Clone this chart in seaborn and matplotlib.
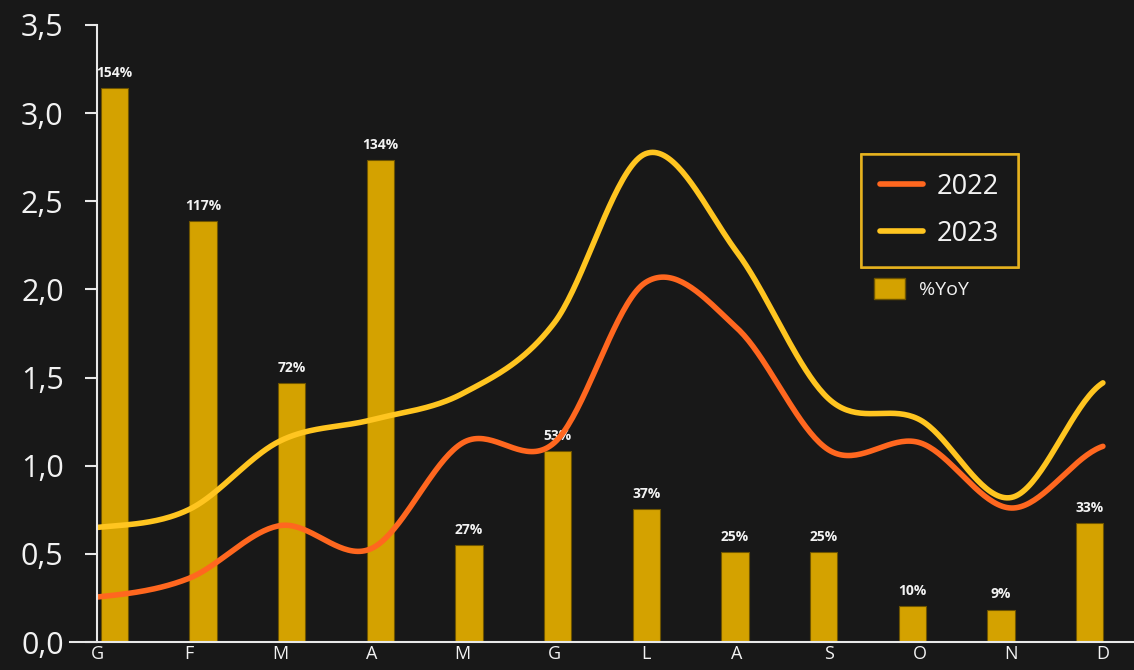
import numpy as np
import pandas as pd
import matplotlib
matplotlib.use("Agg")
import matplotlib.pyplot as plt
import seaborn as sns
from matplotlib.lines import Line2D
from matplotlib.patches import Patch

months = ["G", "F", "M", "A", "M", "G", "L", "A", "S", "O", "N", "D"]
v2022 = [0.255, 0.36, 0.66, 0.53, 1.13, 1.13, 2.04, 1.78, 1.09, 1.13, 0.76, 1.11]
v2023 = [0.65, 0.75, 1.14, 1.26, 1.41, 1.81, 2.77, 2.21, 1.38, 1.26, 0.82, 1.47]
yoy = [154, 117, 72, 134, 27, 53, 37, 25, 25, 10, 9, 33]
yoy_labels = ["154%", "117%", "72%", "134%", "27%", "53%", "37%", "25%", "25%", "10%", "9%", "33%"]

BG = "#181818"
C22 = "#ff671f"
C23 = "#ffc520"
CBAR = "#d4a200"
TXT = "#f2f2f2"

sns.set_theme(style="dark")
plt.rcParams["font.family"] = ["Open Sans", "DejaVu Sans"]


def catmull_rom(y, n=40):
    y = np.asarray(y, float)
    x = np.arange(len(y), dtype=float)
    P = np.concatenate([[y[0]], y, [y[-1]]])
    xs, ys = [], []
    for i in range(len(y) - 1):
        p0, p1, p2, p3 = P[i], P[i + 1], P[i + 2], P[i + 3]
        t = np.linspace(0, 1, n, endpoint=False)
        yy = 0.5 * ((2 * p1) + (-p0 + p2) * t + (2 * p0 - 5 * p1 + 4 * p2 - p3) * t ** 2
                    + (-p0 + 3 * p1 - 3 * p2 + p3) * t ** 3)
        xs.append(x[i] + t)
        ys.append(yy)
    xs.append([x[-1]])
    ys.append([y[-1]])
    return np.concatenate(xs), np.concatenate(ys)


W, H = 1134, 670
fig = plt.figure(figsize=(W / 100, H / 100), dpi=100, facecolor=BG)

# bar axes (secondary scale)
axb = fig.add_axes([70 / W, (H - 642) / H, (W - 70) / W, (642 - 25) / H])
axb.set_facecolor(BG)
dfb = pd.DataFrame({"pos": np.arange(len(months)), "yoy": np.array(yoy) / 100})
sns.barplot(data=dfb, x="pos", y="yoy", ax=axb, color=CBAR, width=0.31,
            saturation=1, edgecolor="#6e5400", linewidth=0.8)
axb.set_xlim(-0.5, 11.5)
axb.set_ylim(0, 1.715)
axb.bar_label(axb.containers[0], labels=yoy_labels, padding=6, color=TXT,
              fontsize=10, fontweight="bold")
axb.set_xticks([])
axb.set_yticks([])
axb.set_xlabel("")
axb.set_ylabel("")
for s in ["top", "right", "left"]:
    axb.spines[s].set_visible(False)
axb.spines["bottom"].set_color("#e8e8e8")
axb.spines["bottom"].set_linewidth(1.5)
axb.grid(False)

# line axes (primary scale)
ax = fig.add_axes([97 / W, (H - 642) / H, (W - 97) / W, (642 - 25) / H])
ax.patch.set_alpha(0)
for vals, col, lab in [(v2022, C22, "2022"), (v2023, C23, "2023")]:
    xs, ys = catmull_rom(vals)
    sns.lineplot(x=xs, y=ys, ax=ax, color=col, linewidth=4, label=lab,
                 solid_capstyle="round", sort=False)
ax.set_xlim(0, 11.34)
ax.set_ylim(0, 3.5)
ax.set_yticks(np.arange(0, 3.51, 0.5))
ax.set_yticklabels([f"{v:.1f}".replace(".", ",") for v in np.arange(0, 3.51, 0.5)])
ax.set_xticks(range(len(months)))
ax.set_xticklabels(months)
ax.tick_params(axis="y", colors="#e8e8e8", labelcolor=TXT, labelsize=22,
               length=9, width=1.5, direction="out", left=True, pad=15)
ax.tick_params(axis="x", colors=TXT, labelsize=13, length=0, pad=2)
for s in ["top", "right", "bottom"]:
    ax.spines[s].set_visible(False)
ax.spines["left"].set_color("#e8e8e8")
ax.spines["left"].set_linewidth(1.5)
ax.grid(False)
ax.set_xlabel("")
ax.set_ylabel("")

# legends
handles = [Line2D([0], [0], color=C22, lw=4, solid_capstyle="round"),
           Line2D([0], [0], color=C23, lw=4, solid_capstyle="round")]
leg = ax.legend(handles, ["2022", "2023"], loc="upper left",
                bbox_to_anchor=(861 / W, 1 - 154 / H), bbox_transform=fig.transFigure,
                fontsize=19.5, labelcolor=TXT, frameon=True, fancybox=False,
                handlelength=1.6, handletextpad=0.5, borderpad=0.7, labelspacing=0.7,
                borderaxespad=0)
leg.get_frame().set_facecolor(BG)
leg.get_frame().set_edgecolor(C23)
leg.get_frame().set_linewidth(1.8)
ax.add_artist(leg)
leg2 = axb.legend([Patch(facecolor=CBAR, edgecolor="#6e5400")], ["%YoY"], loc="upper left",
                  bbox_to_anchor=(866 / W, 1 - 270 / H), bbox_transform=fig.transFigure,
                  fontsize=14, labelcolor=TXT, frameon=False, handlelength=1.6,
                  handleheight=1.3, handletextpad=0.7, borderaxespad=0)

fig.savefig("out.png", dpi=100, facecolor=BG)
